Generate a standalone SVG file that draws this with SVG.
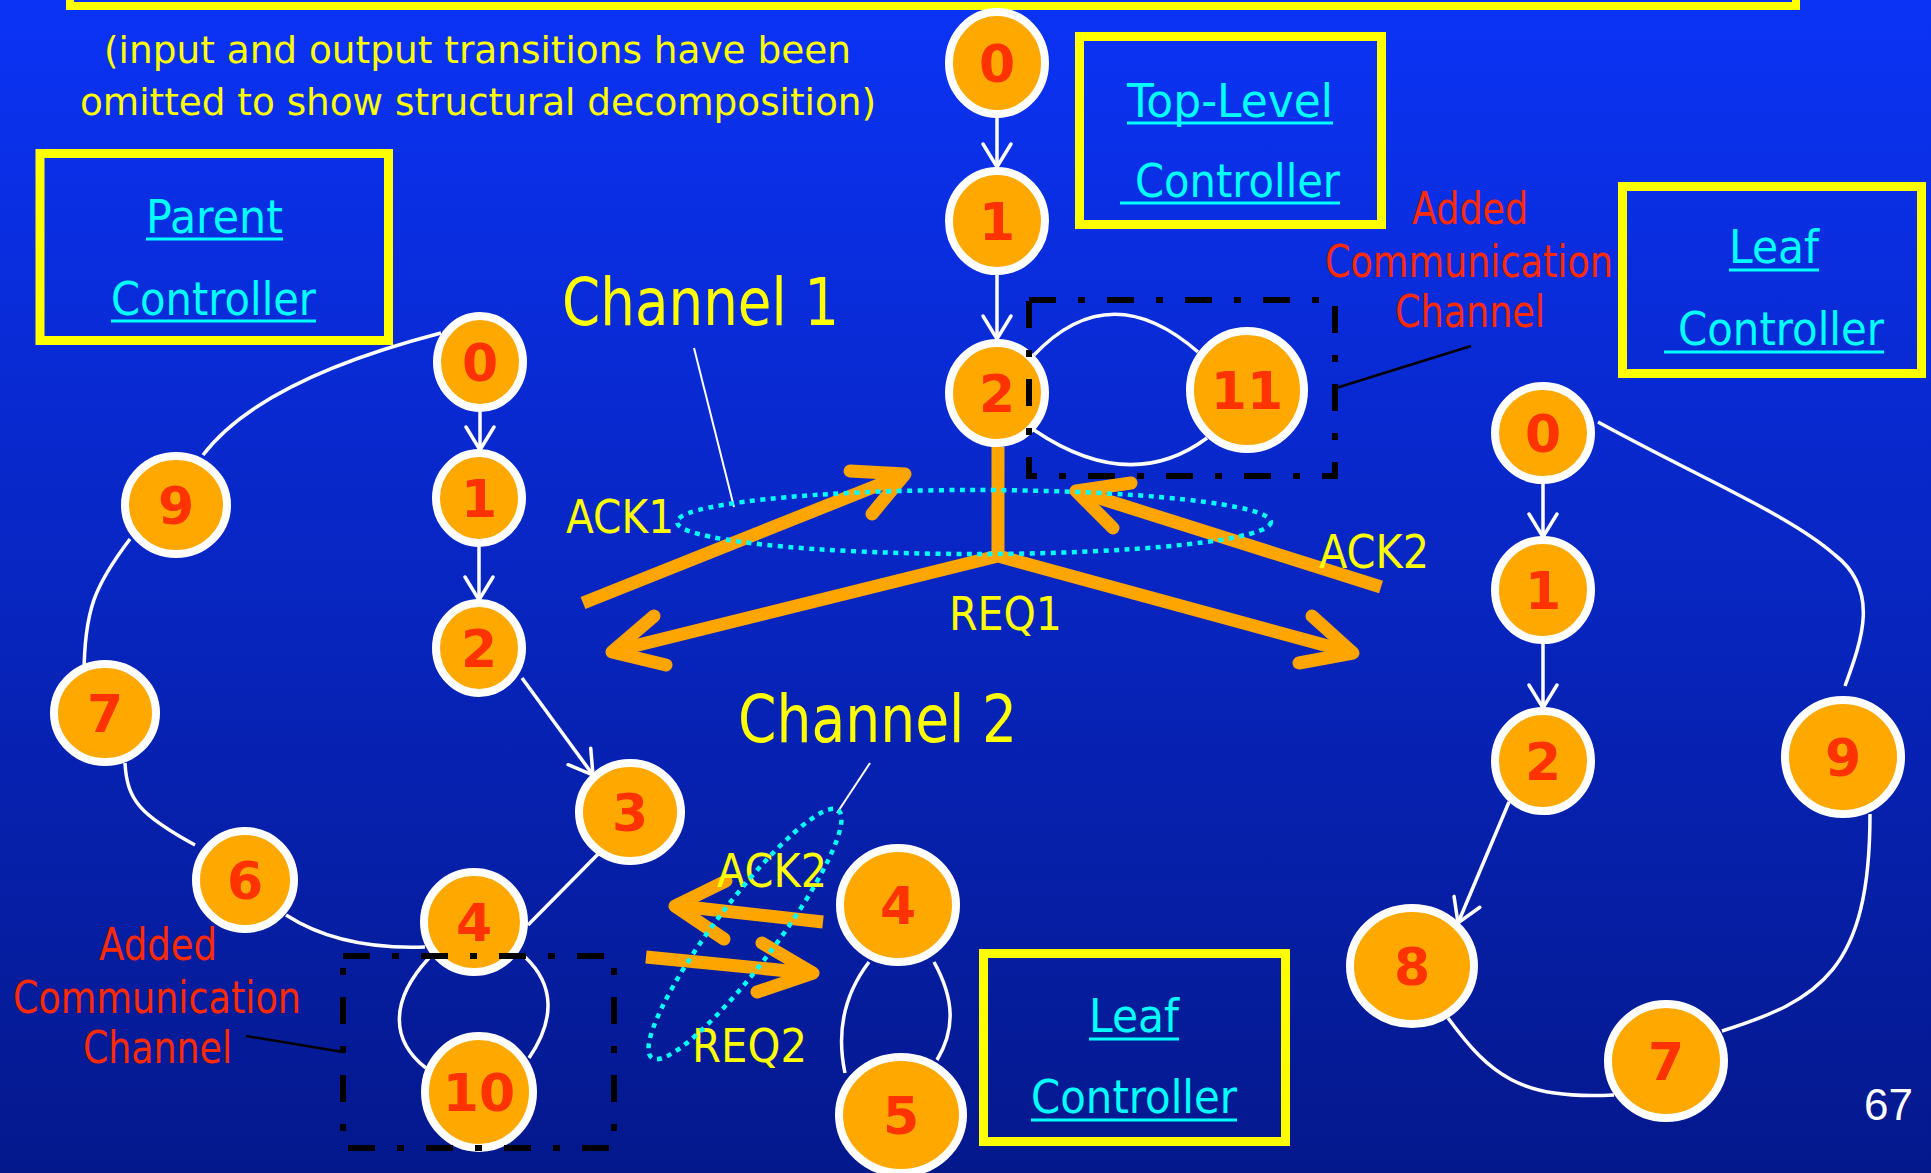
<svg xmlns="http://www.w3.org/2000/svg" width="1931" height="1173" viewBox="0 0 1931 1173">
<defs>
<linearGradient id="bg" x1="0" y1="0" x2="0" y2="1">
<stop offset="0" stop-color="#0b33f5"/>
<stop offset="1" stop-color="#04188c"/>
</linearGradient>
<marker id="ah" markerUnits="userSpaceOnUse" markerWidth="40" markerHeight="40" viewBox="-30 -20 40 40" refX="0" refY="0" orient="auto"><path d="M-23,-14 L0,0 L-23,14" fill="none" stroke="#fff" stroke-width="3.5" stroke-linecap="round"/></marker>
<style>
.n ellipse{fill:#ffa800;stroke:#fff;stroke-width:8}
.n text{font-family:"DejaVu Sans",sans-serif;font-weight:bold;font-size:52px;fill:#ff3300;text-anchor:middle}
.wire{fill:none;stroke:#fff;stroke-width:3.5}
.arw{marker-end:url(#ah)}
.box{fill:none;stroke:#ffff00;stroke-width:9}
.lbl{font-family:"DejaVu Sans",sans-serif;font-size:47px;fill:#00ffff}
.ul{stroke:#00ffff;stroke-width:3}
.y{font-family:"DejaVu Sans",sans-serif;fill:#ffff00}
.r{font-family:"DejaVu Sans",sans-serif;font-size:45px;fill:#ff2a00}
.dd{fill:none;stroke:#000;stroke-width:6;stroke-dasharray:27 22 7 22}
.or{fill:none;stroke:#ffa500;stroke-width:13}
.oh{fill:none;stroke:#ffa500;stroke-width:13;stroke-linecap:round;stroke-linejoin:round}
.dot{fill:none;stroke:#00ffff;stroke-width:4.5;stroke-dasharray:5 5.5}
.lead{stroke:#000;stroke-width:2.5}
.wlead{stroke:#fff;stroke-width:2}
</style>
</defs>
<rect x="0" y="0" width="1931" height="1173" fill="url(#bg)"/>
<rect x="70" y="-100" width="1726" height="106" fill="none" stroke="#ffff00" stroke-width="8"/>
<text class="y" font-size="38" x="104" y="63" textLength="747" lengthAdjust="spacingAndGlyphs">(input and output transitions have been</text>
<text class="y" font-size="38" x="80" y="115" textLength="796" lengthAdjust="spacingAndGlyphs">omitted to show structural decomposition)</text>

<g id="parent-controller-label">
<rect class="box" x="40" y="153.5" width="348.5" height="187"/>
<text class="lbl" x="146" y="233" textLength="137" lengthAdjust="spacingAndGlyphs">Parent</text>
<line class="ul" x1="146" y1="239" x2="283" y2="239"/>
<text class="lbl" x="111" y="315" textLength="205" lengthAdjust="spacingAndGlyphs">Controller</text>
<line class="ul" x1="111" y1="321" x2="316" y2="321"/>
</g>
<g id="top-controller-label">
<rect class="box" x="1079.5" y="36.5" width="302" height="188"/>
<text class="lbl" x="1127" y="117" textLength="206" lengthAdjust="spacingAndGlyphs">Top-Level</text>
<line class="ul" x1="1127" y1="123" x2="1333" y2="123"/>
<text class="lbl" x="1135" y="197" textLength="205" lengthAdjust="spacingAndGlyphs">Controller</text>
<line class="ul" x1="1120" y1="203" x2="1340" y2="203"/>
</g>
<g id="leaf-controller-right-label">
<rect class="box" x="1622.5" y="186.5" width="299" height="187"/>
<text class="lbl" x="1729" y="263" textLength="90" lengthAdjust="spacingAndGlyphs">Leaf</text>
<line class="ul" x1="1729" y1="270" x2="1819" y2="270"/>
<text class="lbl" x="1678" y="345" textLength="206" lengthAdjust="spacingAndGlyphs">Controller</text>
<line class="ul" x1="1664" y1="352" x2="1884" y2="352"/>
</g>
<g id="leaf-controller-mid-label">
<rect class="box" x="983.5" y="953.5" width="302" height="188"/>
<text class="lbl" x="1089" y="1032" textLength="90" lengthAdjust="spacingAndGlyphs">Leaf</text>
<line class="ul" x1="1089" y1="1039" x2="1179" y2="1039"/>
<text class="lbl" x="1031" y="1113" textLength="206" lengthAdjust="spacingAndGlyphs">Controller</text>
<line class="ul" x1="1031" y1="1120" x2="1237" y2="1120"/>
</g>

<g id="connectors">
<path class="wire arw" d="M997,117 L997,167"/>
<path class="wire arw" d="M997,275 L997,339"/>
<path class="wire" d="M1034,355 Q1110,275 1198,352"/>
<path class="wire" d="M1034,430 Q1130,495 1207,438"/>
<path class="wire arw" d="M480,412 L480,450"/>
<path class="wire arw" d="M479,547 L479,600"/>
<path class="wire arw" d="M522,678 L593,775"/>
<path class="wire" d="M607,845 L528,925"/>
<path class="wire" d="M425,947 Q340,950 286,915"/>
<path class="wire" d="M125,763 C127,800 140,815 195,845"/>
<path class="wire" d="M130,539 C95,585 84,610 84,677"/>
<path class="wire" d="M203,455 Q260,380 441,333"/>
<path class="wire" d="M429,958 C390,1000 390,1040 426,1068"/>
<path class="wire" d="M525,957 C555,985 555,1020 529,1058"/>
<path class="wire" d="M869,962 C840,1000 838,1040 845,1073"/>
<path class="wire" d="M934,962 C955,1000 955,1030 937,1060"/>
<path class="wire arw" d="M1543,484 L1543,537"/>
<path class="wire arw" d="M1543,644 L1543,708"/>
<path class="wire arw" d="M1509,802 L1458,923"/>
<path class="wire" d="M1448,1018 C1490,1075 1520,1100 1614,1095"/>
<path class="wire" d="M1722,1031 C1820,1000 1870,970 1870,814"/>
<path class="wire" d="M1845,686 C1862,640 1880,590 1835,555 C1790,515 1700,478 1598,422"/>
<line class="wlead" x1="694" y1="348" x2="734" y2="507"/>
<line class="wlead" x1="870" y1="763" x2="837" y2="813"/>
<line class="lead" x1="246" y1="1036" x2="343" y2="1052"/>
<line class="lead" x1="1471" y1="346" x2="1336" y2="388"/>
</g>

<g id="top-0" class="n"><ellipse cx="997" cy="63" rx="48" ry="51"/><text x="997" y="82">0</text></g>
<g id="top-1" class="n"><ellipse cx="997" cy="221" rx="48" ry="50"/><text x="997" y="240">1</text></g>
<g id="top-2" class="n"><ellipse cx="997" cy="393" rx="48" ry="50"/><text x="997" y="412">2</text></g>
<g id="top-11" class="n"><ellipse cx="1247" cy="390" rx="57" ry="59"/><text x="1247" y="409">11</text></g>
<g id="parent-0" class="n"><ellipse cx="480" cy="362" rx="43" ry="46"/><text x="480" y="381">0</text></g>
<g id="parent-1" class="n"><ellipse cx="479" cy="498" rx="43" ry="45"/><text x="479" y="517">1</text></g>
<g id="parent-2" class="n"><ellipse cx="479" cy="648" rx="43" ry="45"/><text x="479" y="667">2</text></g>
<g id="parent-3" class="n"><ellipse cx="630" cy="812" rx="51" ry="49"/><text x="630" y="831">3</text></g>
<g id="parent-4" class="n"><ellipse cx="474" cy="922" rx="50" ry="50"/><text x="474" y="941">4</text></g>
<g id="parent-6" class="n"><ellipse cx="245" cy="880" rx="49" ry="49"/><text x="245" y="899">6</text></g>
<g id="parent-7" class="n"><ellipse cx="105" cy="713" rx="51" ry="49"/><text x="105" y="732">7</text></g>
<g id="parent-9" class="n"><ellipse cx="176" cy="505" rx="51" ry="49"/><text x="176" y="524">9</text></g>
<g id="parent-10" class="n"><ellipse cx="479" cy="1092" rx="54" ry="56"/><text x="479" y="1111">10</text></g>
<g id="leafm-4" class="n"><ellipse cx="898" cy="905" rx="58" ry="57"/><text x="898" y="924">4</text></g>
<g id="leafm-5" class="n"><ellipse cx="901" cy="1115" rx="62" ry="58"/><text x="901" y="1134">5</text></g>
<g id="leafr-0" class="n"><ellipse cx="1543" cy="433" rx="48" ry="47"/><text x="1543" y="452">0</text></g>
<g id="leafr-1" class="n"><ellipse cx="1543" cy="590" rx="48" ry="50"/><text x="1543" y="609">1</text></g>
<g id="leafr-2" class="n"><ellipse cx="1543" cy="761" rx="48" ry="50"/><text x="1543" y="780">2</text></g>
<g id="leafr-8" class="n"><ellipse cx="1412" cy="966" rx="62" ry="58"/><text x="1412" y="985">8</text></g>
<g id="leafr-7" class="n"><ellipse cx="1666" cy="1061" rx="58" ry="57"/><text x="1666" y="1080">7</text></g>
<g id="leafr-9" class="n"><ellipse cx="1843" cy="757" rx="58" ry="57"/><text x="1843" y="776">9</text></g>

<g id="added-channel-top">
<rect class="dd" x="1029" y="300" width="306" height="176"/>
<text class="r" x="1412" y="224" textLength="116" lengthAdjust="spacingAndGlyphs">Added</text>
<text class="r" x="1325" y="277" textLength="288" lengthAdjust="spacingAndGlyphs">Communication</text>
<text class="r" x="1395" y="327" textLength="150" lengthAdjust="spacingAndGlyphs">Channel</text>
</g>
<g id="added-channel-bottom">
<rect class="dd" x="343" y="956" width="271" height="192"/>
<text class="r" x="99" y="960" textLength="118" lengthAdjust="spacingAndGlyphs">Added</text>
<text class="r" x="13" y="1013" textLength="288" lengthAdjust="spacingAndGlyphs">Communication</text>
<text class="r" x="83" y="1063" textLength="149" lengthAdjust="spacingAndGlyphs">Channel</text>
</g>

<g id="channel-1">
<path class="or" d="M998,447 V557"/>
<path class="or" d="M614,651 L998,556 L1350,652"/>
<path class="oh" d="M654,616 L612,652 L666,665"/>
<path class="oh" d="M1312,616 L1353,653 L1299,663"/>
<path class="or" d="M583,603 L901,476"/>
<path class="oh" d="M850,471 L905,474 L872,514"/>
<path class="or" d="M1381,587 L1080,492"/>
<path class="oh" d="M1131,483 L1076,491 L1113,528"/>
<ellipse class="dot" cx="974" cy="522" rx="297" ry="32"/>
<text class="y" font-size="65" x="562" y="325" textLength="277" lengthAdjust="spacingAndGlyphs">Channel 1</text>
<text class="y" font-size="47" x="566" y="533" textLength="108" lengthAdjust="spacingAndGlyphs">ACK1</text>
<text class="y" font-size="47" x="949" y="630" textLength="113" lengthAdjust="spacingAndGlyphs">REQ1</text>
<text class="y" font-size="47" x="1319" y="568" textLength="110" lengthAdjust="spacingAndGlyphs">ACK2</text>
</g>
<g id="channel-2">
<path class="or" d="M823,922 L679,906"/>
<path class="oh" d="M726,881 L675,906 L724,939"/>
<path class="or" d="M646,957 L809,973"/>
<path class="oh" d="M762,943 L813,973 L757,992"/>
<text class="y" font-size="65" x="738" y="742" textLength="279" lengthAdjust="spacingAndGlyphs">Channel 2</text>
<text class="y" font-size="47" x="717" y="887" textLength="110" lengthAdjust="spacingAndGlyphs">ACK2</text>
<text class="y" font-size="47" x="692" y="1062" textLength="115" lengthAdjust="spacingAndGlyphs">REQ2</text>
<ellipse class="dot" cx="745" cy="934" rx="155" ry="31" transform="rotate(-53 745 934)"/>
</g>
<text x="1864" y="1120" font-family="Liberation Sans, Arial, sans-serif" font-size="44" fill="#ffffff">67</text>
</svg>
